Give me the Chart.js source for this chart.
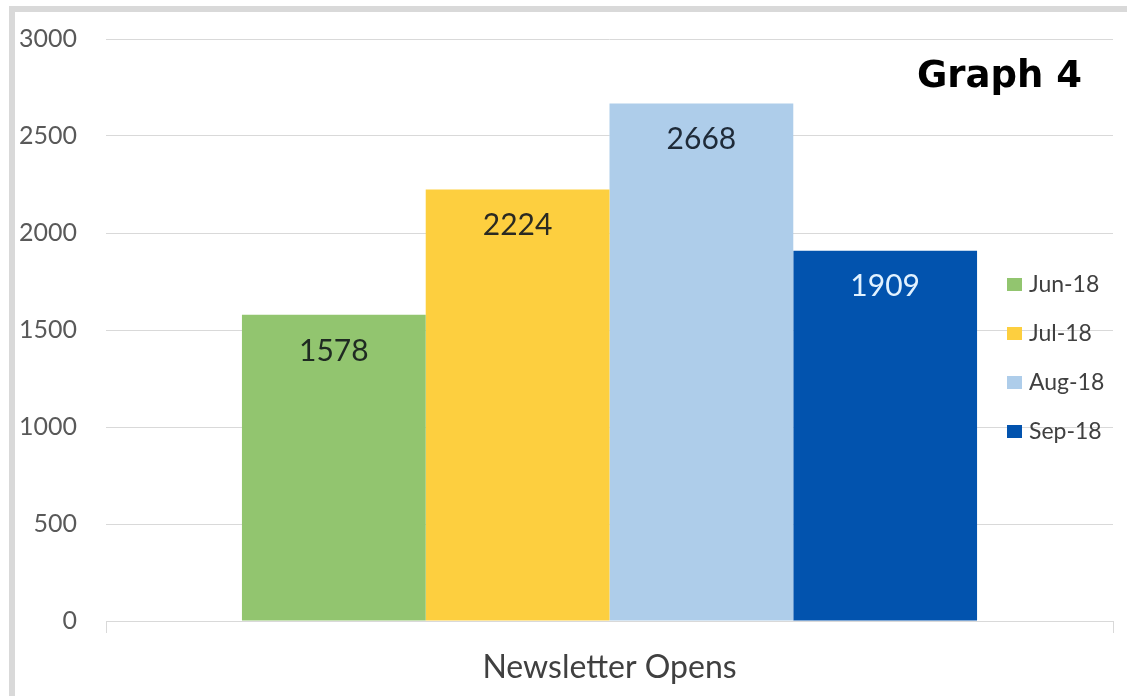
<!DOCTYPE html>
<html>
<head>
<meta charset="utf-8">
<script src="https://cdn.jsdelivr.net/npm/chart.js@4/dist/chart.umd.min.js"></script>
<style>
  html, body { margin: 0; padding: 0; background: #fff; }
  #c { display: block; }
</style>
</head>
<body>
<canvas id="c" width="1127" height="696"></canvas>
<script>
const categories = ['Newsletter Opens'];
const seriesNames = ['Jun-18', 'Jul-18', 'Aug-18', 'Sep-18'];
const seriesValues = [[1578], [2224], [2668], [1909]];
const seriesColors = ['#92c56f', '#fdcf3f', '#aecdea', '#0253ae'];
const labelColors = ['#1f2a22', '#2a2a22', '#1e2a38', '#e2f2ff'];
const yTicks = [0, 500, 1000, 1500, 2000, 2500, 3000];
const chartTitle = 'Graph 4';

const FONT = 'Lato, "Open Sans", sans-serif';

const framePlugin = {
  id: 'frame',
  beforeDraw(chart) {
    const ctx = chart.ctx;
    ctx.save();
    ctx.fillStyle = '#ffffff';
    ctx.fillRect(0, 0, chart.width, chart.height);
    ctx.fillStyle = '#d9d9d9';
    ctx.fillRect(9, 6, chart.width - 9, 6);
    ctx.fillRect(9, 6, 6, chart.height - 6);
    ctx.restore();
  }
};

const valueLabels = {
  id: 'valueLabels',
  afterDatasetsDraw(chart) {
    const ctx = chart.ctx;
    ctx.save();
    ctx.font = '30px ' + FONT;
    ctx.textAlign = 'center';
    ctx.textBaseline = 'middle';
    chart.data.datasets.forEach((ds, i) => {
      const meta = chart.getDatasetMeta(i);
      meta.data.forEach((el, j) => {
        ctx.fillStyle = labelColors[i];
        ctx.fillText(String(ds.data[j]), el.x, el.y + 36);
      });
    });
    ctx.restore();
  }
};

const sideLegend = {
  id: 'sideLegend',
  afterDraw(chart) {
    const ctx = chart.ctx;
    ctx.save();
    ctx.font = '23px ' + FONT;
    ctx.textBaseline = 'middle';
    ctx.textAlign = 'left';
    chart.data.datasets.forEach((ds, i) => {
      const y = 285 + i * 49;
      ctx.fillStyle = ds.backgroundColor;
      ctx.fillRect(1007, y - 7, 15, 13);
      ctx.fillStyle = '#404040';
      ctx.fillText(ds.label, 1029, y);
    });
    ctx.restore();
  }
};

const cornerTitle = {
  id: 'cornerTitle',
  afterDraw(chart) {
    const ctx = chart.ctx;
    ctx.save();
    ctx.font = 'bold 37px "DejaVu Sans", sans-serif';
    ctx.fillStyle = '#000000';
    ctx.textAlign = 'right';
    ctx.textBaseline = 'alphabetic';
    ctx.fillText(chartTitle, 1082, 87);
    ctx.restore();
  }
};

new Chart(document.getElementById('c'), {
  type: 'bar',
  data: {
    labels: categories,
    datasets: seriesNames.map((name, i) => ({
      label: name,
      data: seriesValues[i],
      backgroundColor: seriesColors[i],
      borderWidth: 0,
      categoryPercentage: 0.73,
      barPercentage: 1.0
    }))
  },
  options: {
    responsive: false,
    devicePixelRatio: 1,
    animation: false,
    layout: { padding: { left: 0, right: 14, top: 39, bottom: 0 } },
    plugins: {
      legend: { display: false },
      tooltip: { enabled: false },
      title: { display: false }
    },
    scales: {
      x: {
        grid: {
          display: true,
          drawOnChartArea: false,
          drawTicks: true,
          tickLength: 12,
          color: '#d9d9d9',
          offset: true
        },
        border: { display: true, color: '#d9d9d9', width: 1 },
        ticks: {
          color: '#404040',
          font: { family: FONT, size: 32 },
          padding: 15,
          maxRotation: 0
        },
        afterFit(axis) { axis.height = 75; }
      },
      y: {
        min: 0,
        max: 3000,
        afterBuildTicks(axis) { axis.ticks = yTicks.map(v => ({ value: v })); },
        grid: { color: '#d9d9d9', drawTicks: false, lineWidth: 1 },
        border: { display: false },
        ticks: {
          color: '#595959',
          font: { family: FONT, size: 25 },
          padding: 29,
          callback: (v) => String(v)
        },
        afterFit(axis) {
          axis.width = 106;
          axis.paddingTop = 15;
          axis.paddingBottom = 15;
        }
      }
    }
  },
  plugins: [framePlugin, valueLabels, sideLegend, cornerTitle]
});
</script>
</body>
</html>
